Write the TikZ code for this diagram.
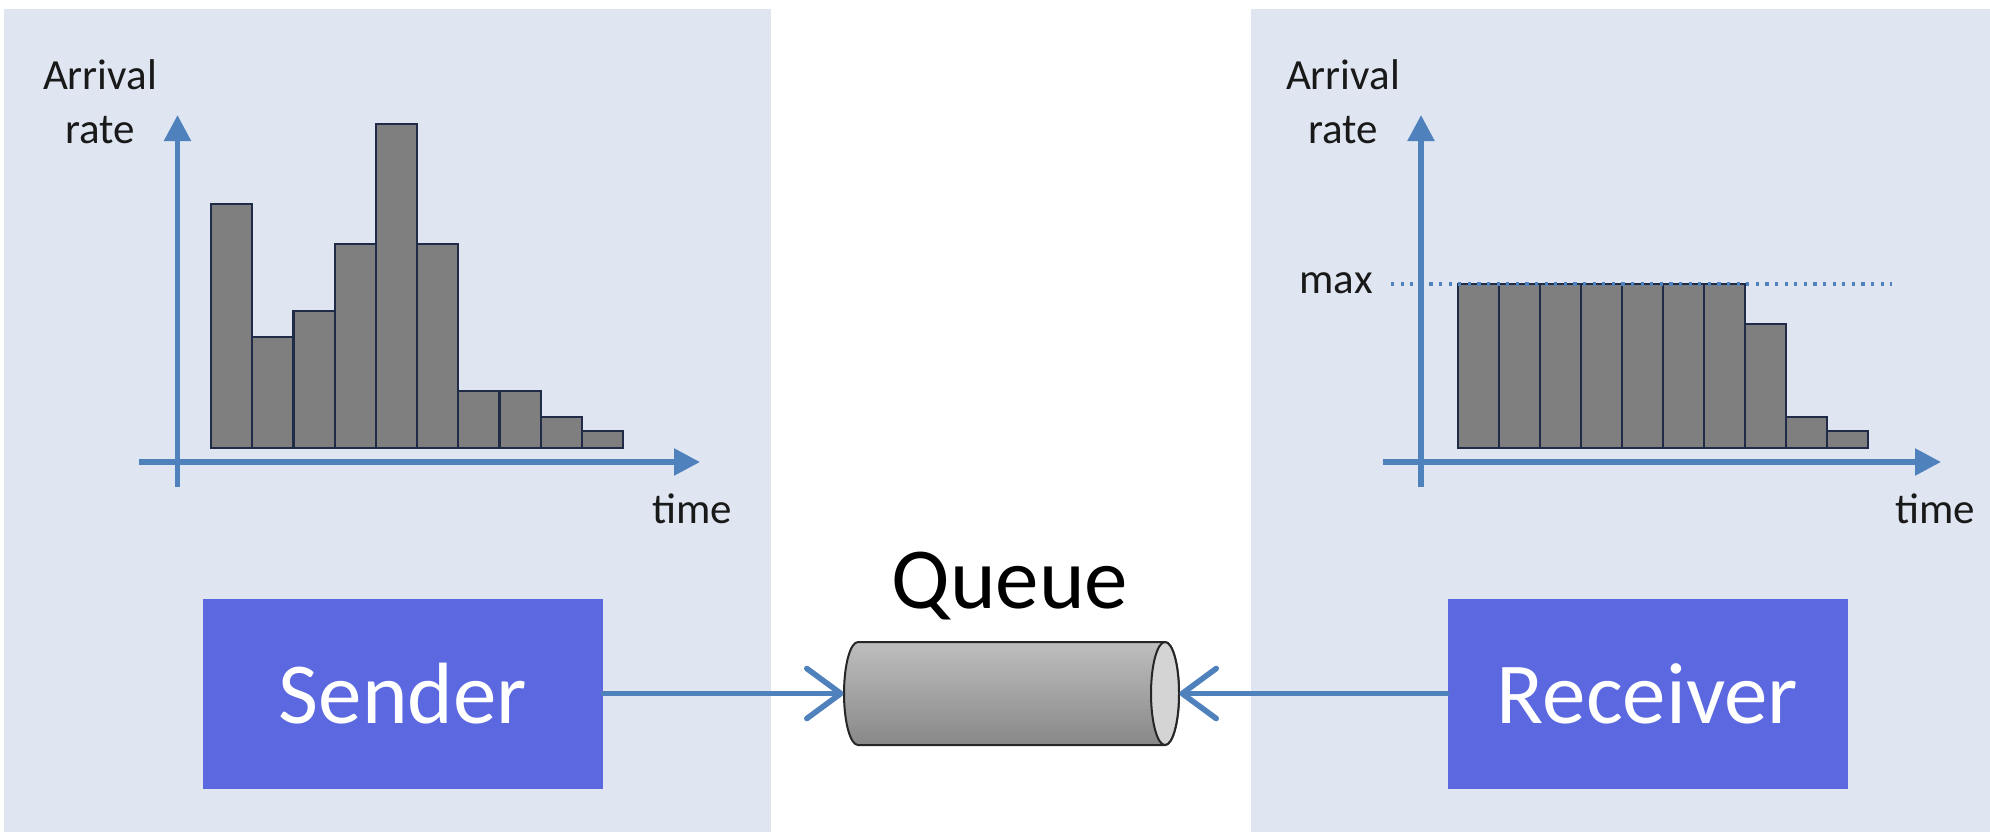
\documentclass[tikz,border=0pt]{standalone}
\usepackage{fontspec}
\setmainfont{Carlito}
\usetikzlibrary{arrows.meta}
\definecolor{panelbg}{HTML}{DFE6F2}
\definecolor{boxfill}{HTML}{5B68E0}
\definecolor{axisblue}{HTML}{4F81BD}
\definecolor{barfill}{HTML}{7F7F7F}
\definecolor{barline}{HTML}{1F2B47}
\definecolor{cyltop}{HTML}{BEBEBE}
\definecolor{cylbot}{HTML}{888888}
\definecolor{cylend}{HTML}{D4D4D4}
\tikzset{
  axisline/.style={draw=axisblue, line width=2.7pt, -{Triangle[length=13pt,width=13pt]}},
  barbox/.style={fill=barfill, draw=barline, line width=1.1pt},
  lbl/.style={font=\fontsize{21.5pt}{26pt}\selectfont, text=black!90, inner sep=0pt, anchor=base},
  agent/.style={fill=boxfill, text=white, minimum width=200pt, minimum height=95pt, inner sep=0pt,
    font=\fontsize{43.5pt}{50pt}\selectfont},
  flow/.style={draw=axisblue, line width=2.8pt, line cap=round, line join=round,
    -{Straight Barb[length=17pt,width=25pt,round]}},
  maxline/.style={draw=axisblue, line width=1.6pt, dash pattern=on 1.6pt off 3.2pt},
  cylbody/.style={draw=black!85, line width=1pt, top color=cyltop, bottom color=cylbot}
}
\begin{document}
\begin{tikzpicture}[x=0.5pt,y=-0.5pt]
\useasboundingbox (0,0) rectangle (1990,832);
% panels
\fill[panelbg] (4,9) rectangle (771,832);
\fill[panelbg] (1251,9) rectangle (1990,832);

% ---------- left chart ----------
\coordinate (lyb) at (177.5,487);
\coordinate (lyt) at (177.5,115);
\coordinate (lxl) at (139,462);
\coordinate (lxr) at (700,462);
\foreach \h [count=\i from 0] in {204,337,311,244,124,244,391,391,417,431}
  \filldraw[barbox] ({211+41.2*\i},448) rectangle ({211+41.2*(\i+1)},\h);
\draw[axisline] (lyb) -- (lyt);
\draw[axisline] (lxl) -- (lxr);
\node[lbl] (arrL) at (100,89) {Arrival};
\node[lbl] (rateL) at (100,143) {rate};
\node[lbl] (timeL) at (692,523) {time};

% ---------- right chart ----------
\coordinate (ryb) at (1421,487);
\coordinate (ryt) at (1421,115);
\coordinate (rxl) at (1383,462);
\coordinate (rxr) at (1941,462);
\foreach \h [count=\i from 0] in {284,284,284,284,284,284,284,324,417,431}
  \filldraw[barbox] ({1458+41*\i},448) rectangle ({1458+41*(\i+1)},\h);
\coordinate (maxa) at (1391,284);
\coordinate (maxb) at (1892,284);
\draw[maxline] (maxa) -- (maxb);
\draw[axisline] (ryb) -- (ryt);
\draw[axisline] (rxl) -- (rxr);
\node[lbl] (arrR) at (1343,89) {Arrival};
\node[lbl] (rateR) at (1343,143) {rate};
\node[lbl] (maxR) at (1336,293) {max};
\node[lbl] (timeR) at (1935,523) {time};

% ---------- bottom row ----------
\node[agent] (sender) at (403,693.5) {Sender};
\node[agent] (receiver) at (1647.5,693.5) {Receiver};
\node[minimum width=167.5pt, minimum height=51.5pt, inner sep=0pt] (queue) at (1011.5,693.5) {};
\draw[cylbody] (1165,642) -- (858,642)
  arc[start angle=-90, end angle=-270, x radius=14, y radius=51.5]
  -- (1165,745)
  arc[start angle=90, end angle=-90, x radius=14, y radius=51.5] -- cycle;
\draw[draw=black!85, line width=1pt, fill=cylend] (1165,693.5) ellipse [x radius=14, y radius=51.5];
\node[font=\fontsize{43.5pt}{50pt}\selectfont, inner sep=0pt, anchor=base] (qlabel) at (1010,608) {Queue};
\draw[flow] (sender.east) -- (queue.west);
\draw[flow] (receiver.west) -- (queue.east);
\end{tikzpicture}
\end{document}
